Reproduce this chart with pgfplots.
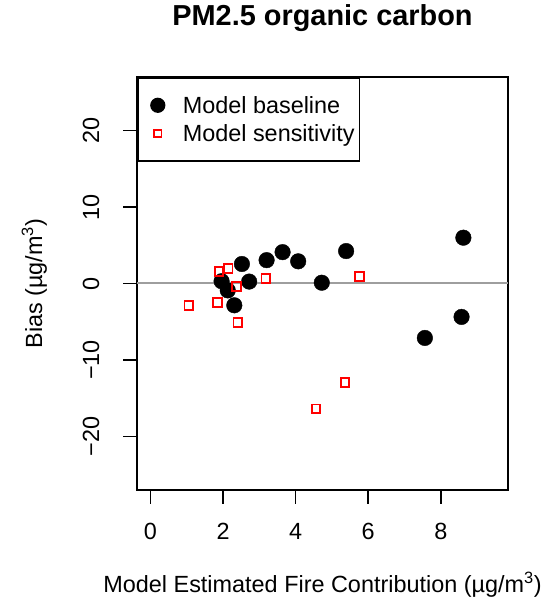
\documentclass[border=0pt]{standalone}
\usepackage{fontspec}
\setmainfont{Liberation Sans}
\usepackage{pgfplots}
\pgfplotsset{compat=1.18}
\definecolor{zeroline}{gray}{0.62}

% Bias against the model's estimated fire contribution
\pgfplotstableread{
x     y
1.96  0.30
2.13 -0.90
2.31 -2.85
2.52  2.55
2.72  0.25
3.20  3.05
3.64  4.10
4.07  2.90
4.72  0.10
5.39  4.24
7.56 -7.12
8.57 -4.37
8.62  5.99
}\baseline

\pgfplotstableread{
x     y
1.06 -2.88
1.84 -2.50
1.89  1.58
2.14  1.95
2.37 -0.35
2.41 -5.07
3.18  0.66
4.56 -16.40
5.36 -12.93
5.75  0.88
}\sensitivity

\begin{document}
\begin{tikzpicture}[x=1bp,y=1bp]
\useasboundingbox (0,0) rectangle (544,597);
\begin{axis}[
  at={(137bp,107bp)}, anchor=south west,
  scale only axis, width=371bp, height=413bp,
  xmin=-0.37, xmax=9.85, ymin=-27, ymax=27,
  axis line style={line width=1.6bp},
  xtick={0,2,4,6,8}, ytick={-20,-10,0,10,20},
  yticklabels={−20,−10,0,10,20},
  xtick pos=bottom, ytick pos=left, tick align=outside,
  major tick length=14bp,
  tick style={line width=1.6bp, black},
  /pgf/number format/assume math mode=true,
  tick label style={font=\fontsize{23.5}{28}\selectfont, inner sep=0pt},
  xticklabel style={anchor=north},
  xticklabel shift=19bp,
  yticklabel style={rotate=90, anchor=base},
  yticklabel shift=24bp,
  label style={font=\fontsize{23.5}{28}\selectfont, inner sep=0pt},
  xlabel={Model Estimated Fire Contribution (µg/m\textsuperscript{3})},
  xlabel style={at={(axis description cs:0.5,-0.247)}, anchor=base},
  ylabel={Bias (µg/m\textsuperscript{3})},
  ylabel style={at={(axis description cs:-0.256,0.5)}, rotate=0, anchor=base},
  title={PM2.5 organic carbon},
  title style={at={(axis description cs:0.5,1.110)}, anchor=base, inner sep=0pt,
    font=\fontsize{29}{34}\selectfont\bfseries},
  legend image code/.code={\path[draw=none, fill=none] (0bp,-6bp) rectangle (30bp,6bp);
    \draw[#1] plot coordinates {(15bp,0bp)};},
  legend cell align=left,
  legend style={at={(0,1)}, anchor=north west, draw=black, line width=1.6bp,
    inner xsep=5bp, inner ysep=19bp, column sep=10bp, row sep=11bp,
    font=\fontsize{23.5}{28}\selectfont,
    nodes={inner sep=0pt, text height=17bp, text depth=0pt}},
]
\addplot[only marks, mark=*, mark size=7.8bp, black, fill=black,
  legend image post style={mark size=6.8bp}] table[x=x, y=y] {\baseline};
\addlegendentry{Model baseline}
\addplot[only marks, mark=square, mark size=4.4bp, red, line width=1.9bp,
  legend image post style={mark size=3.6bp, line width=1.7bp}] table[x=x, y=y] {\sensitivity};
\addlegendentry{Model sensitivity}
\addplot[zeroline, line width=2bp, forget plot] coordinates {(-0.37,0) (9.85,0)};
\end{axis}
\end{tikzpicture}
\end{document}
